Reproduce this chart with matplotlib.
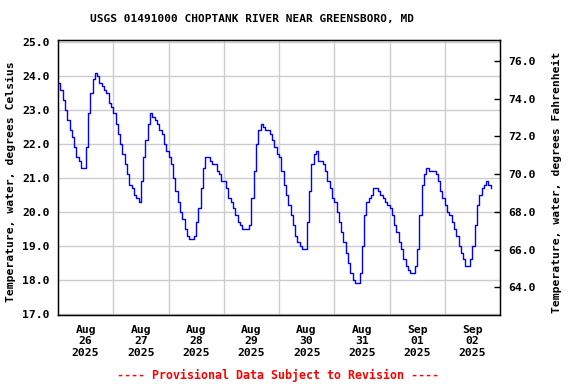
import matplotlib
matplotlib.use('Agg')
import matplotlib.pyplot as plt
import pandas as pd

plt.rcParams.update({
    'font.family': 'DejaVu Sans Mono',
    'font.weight': 'bold',
    'font.size': 8.2,
})

# hourly water temperature (deg C), starting 2025-08-26 00:00
aug26 = [23.8, 23.6, 23.3, 23.0, 22.7, 22.4, 22.2, 21.9, 21.6, 21.5, 21.3, 21.3,
         21.9, 22.9, 23.5, 23.9, 24.1, 24.0, 23.8, 23.7, 23.6, 23.5, 23.2, 23.1]
aug27 = [22.9, 22.6, 22.3, 22.0, 21.7, 21.4, 21.1, 20.8, 20.7, 20.5, 20.4, 20.3,
         20.9, 21.6, 22.1, 22.6, 22.9, 22.8, 22.7, 22.6, 22.4, 22.3, 22.0, 21.8]
aug28 = [21.6, 21.4, 21.0, 20.6, 20.3, 20.0, 19.8, 19.5, 19.3, 19.2, 19.2, 19.3,
         19.7, 20.1, 20.7, 21.3, 21.6, 21.6, 21.5, 21.4, 21.4, 21.2, 21.1, 20.9]
aug29 = [20.9, 20.7, 20.4, 20.3, 20.1, 19.9, 19.7, 19.6, 19.5, 19.5, 19.5, 19.6,
         20.4, 21.2, 22.0, 22.4, 22.6, 22.5, 22.4, 22.4, 22.3, 22.1, 21.9, 21.7]
aug30 = [21.6, 21.2, 20.8, 20.5, 20.2, 19.9, 19.6, 19.3, 19.1, 19.0, 18.9, 18.9,
         19.7, 20.6, 21.4, 21.7, 21.8, 21.5, 21.5, 21.4, 21.2, 20.9, 20.7, 20.4]
aug31 = [20.3, 20.0, 19.7, 19.4, 19.1, 18.8, 18.5, 18.2, 18.0, 17.9, 17.9, 18.2,
         19.0, 19.9, 20.3, 20.4, 20.5, 20.7, 20.7, 20.6, 20.5, 20.4, 20.3, 20.2]
sep01 = [20.1, 19.9, 19.6, 19.4, 19.1, 18.9, 18.6, 18.4, 18.3, 18.2, 18.2, 18.4,
         18.9, 19.9, 20.8, 21.1, 21.3, 21.2, 21.2, 21.2, 21.1, 20.9, 20.6, 20.4]
sep02 = [20.2, 20.0, 19.9, 19.7, 19.5, 19.3, 19.0, 18.8, 18.6, 18.4, 18.4, 18.6,
         19.0, 19.6, 20.2, 20.5, 20.7, 20.8, 20.9, 20.8, 20.7]

temps = aug26 + aug27 + aug28 + aug29 + aug30 + aug31 + sep01 + sep02
times = pd.date_range('2025-08-26 00:00', periods=len(temps), freq='h')

day_names = ['Aug\n26\n2025', 'Aug\n27\n2025', 'Aug\n28\n2025', 'Aug\n29\n2025',
             'Aug\n30\n2025', 'Aug\n31\n2025', 'Sep\n01\n2025', 'Sep\n02\n2025']
c_ticks = [17.0, 18.0, 19.0, 20.0, 21.0, 22.0, 23.0, 24.0, 25.0]
f_ticks = [64.0, 66.0, 68.0, 70.0, 72.0, 74.0, 76.0]

fig = plt.figure(figsize=(5.76, 3.84), dpi=100)
ax = fig.add_axes([58 / 576, 1 - 315 / 384, 442 / 576, 275 / 384])

ax.plot(times, temps, color='#0000ff', lw=1.0, drawstyle='steps-post', zorder=3)

c_lo, c_hi = 16.96, 25.06
ax.set_ylim(c_lo, c_hi)
ax.set_yticks(c_ticks)
ax.set_yticklabels([f'{v:.1f}' for v in c_ticks])
ax.set_xlim(pd.Timestamp('2025-08-26'), pd.Timestamp('2025-09-03'))

midnights = pd.date_range('2025-08-27', '2025-09-02', freq='D')
noons = pd.date_range('2025-08-26 12:00', periods=8, freq='D')
ax.set_xticks(midnights)
ax.set_xticklabels([''] * len(midnights))
ax.set_xticks(noons, minor=True)
ax.set_xticklabels(day_names, minor=True)
ax.tick_params(axis='x', which='both', length=0)
ax.tick_params(axis='x', which='minor', pad=7)
ax.tick_params(axis='y', length=0, pad=6)

ax.grid(True, which='major', color='#cccccc', lw=1.0)
for s in ax.spines.values():
    s.set_linewidth(1.0)
    s.set_color('black')

ax2 = ax.twinx()
ax2.set_ylim(c_lo * 1.8 + 32, c_hi * 1.8 + 32)
ax2.set_yticks(f_ticks)
ax2.set_yticklabels([f'{v:.1f}' for v in f_ticks])
ax2.tick_params(axis='y', direction='in', length=4, width=1, pad=6)

fig.text(252 / 576, 1 - 19 / 384, 'USGS 01491000 CHOPTANK RIVER NEAR GREENSBORO, MD',
         ha='center', va='center', fontsize=8.0)
fig.text(11 / 576, 1 - 182 / 384, 'Temperature, water, degrees Celsius',
         rotation=90, ha='center', va='center')
fig.text(557 / 576, 1 - 182 / 384, 'Temperature, water, degrees Fahrenheit',
         rotation=90, ha='center', va='center')
fig.text(278 / 576, 1 - 375 / 384, '---- Provisional Data Subject to Revision ----',
         ha='center', va='center', color='#ff0000', fontsize=8.4)

fig.savefig('out.png', dpi=100)
